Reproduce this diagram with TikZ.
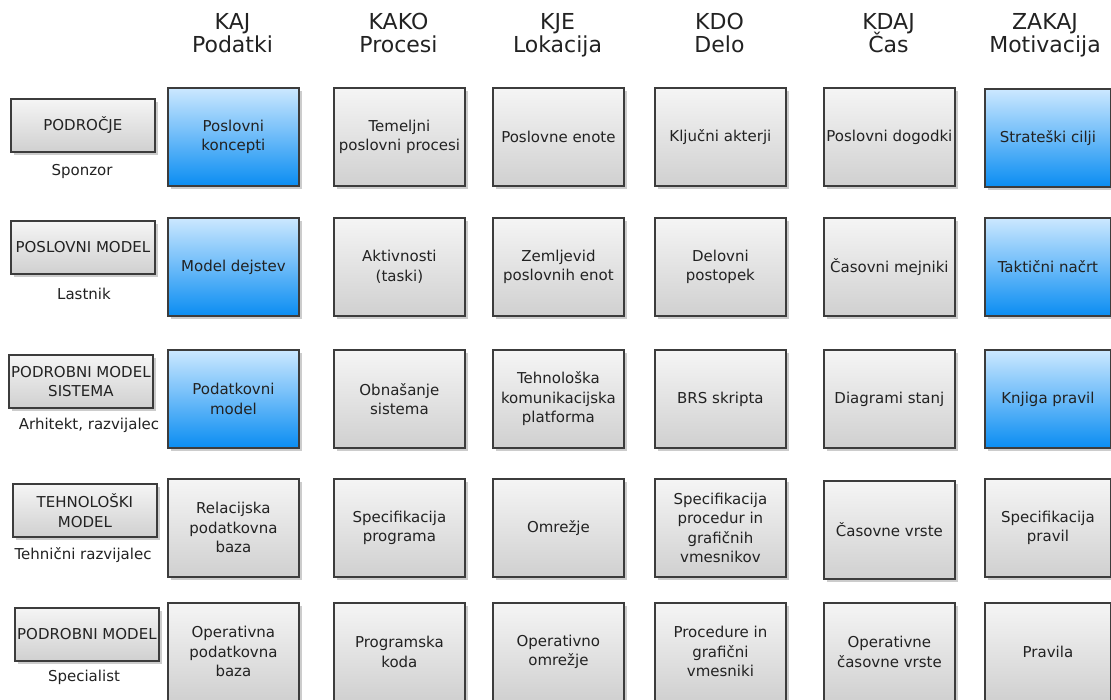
\documentclass[tikz,border=0pt]{standalone}
\usepackage{fontspec}
\setmainfont{DejaVu Sans}
\usetikzlibrary{shadows}

\definecolor{edge}{HTML}{3C3C3C}
\definecolor{greytop}{HTML}{F5F5F5}
\definecolor{greybot}{HTML}{D0D0D0}
\definecolor{bluetop}{HTML}{CCE8FF}
\definecolor{bluebot}{HTML}{0A8DF2}
\definecolor{ink}{HTML}{222222}

\tikzset{
  base/.style={rectangle, draw=edge, line width=1.8pt, anchor=north west,
    inner sep=2pt, align=center, text=ink,
    font=\fontsize{15}{19.5}\selectfont,
    drop shadow={shadow xshift=3.5pt, shadow yshift=-3.5pt, fill=black, opacity=0.2}},
  cell/.style={base, top color=greytop, bottom color=greybot,
    minimum width=131pt, minimum height=98pt},
  keycell/.style={cell, top color=bluetop, bottom color=bluebot},
  levelbox/.style={base, top color=greytop, bottom color=greybot,
    minimum width=144pt, minimum height=53pt, inner sep=1pt},
  role/.style={text=ink, font=\fontsize{15}{18}\selectfont},
  head/.style={text=ink, align=center, anchor=north, inner sep=0pt,
    font=\fontsize{22}{23}\selectfont},
}

\begin{document}
\begin{tikzpicture}[x=1pt, y=-1pt]
\useasboundingbox (0,0) rectangle (1111,700);

% column headings
\node[head] (hkaj)   at (232.5,13) {KAJ\\Podatki};
\node[head] (hkako)  at (398.5,13) {KAKO\\Procesi};
\node[head] (hkje)   at (557.5,13) {KJE\\Lokacija};
\node[head] (hkdo)   at (719.5,13) {KDO\\Delo};
\node[head] (hkdaj)  at (888.5,13) {KDAJ\\\smash{Č}as};
\node[head] (hzakaj) at (1045,13)  {ZAKAJ\\Motivacija};

% level boxes with their roles
\node[levelbox] (l1) at (10,98)  {PODROČJE};
\node[role] (p1) at (82,171) {Sponzor};
\node[levelbox] (l2) at (10,220) {POSLOVNI MODEL};
\node[role] (p2) at (84,294) {Lastnik};
\node[levelbox] (l3) at (8,354)  {PODROBNI MODEL\\SISTEMA};
\node[role] (p3) at (89,425) {Arhitekt, razvijalec};
\node[levelbox] (l4) at (12,483) {TEHNOLOŠKI\\MODEL};
\node[role] (p4) at (83,555) {Tehnični razvijalec};
\node[levelbox] (l5) at (14,607) {PODROBNI MODEL};
\node[role] (p5) at (84,677) {Specialist};

% row 1
\node[keycell] (c11) at (167,87) {Poslovni\\koncepti};
\node[cell]    (c12) at (333,87) {Temeljni\\poslovni procesi};
\node[cell]    (c13) at (492,87) {Poslovne enote};
\node[cell]    (c14) at (654,87) {Ključni akterji};
\node[cell]    (c15) at (823,87) {Poslovni dogodki};
\node[keycell, minimum width=126pt] (c16) at (984,88) {Strateški cilji};

% row 2
\node[keycell] (c21) at (167,217) {Model dejstev};
\node[cell]    (c22) at (333,217) {Aktivnosti\\(taski)};
\node[cell]    (c23) at (492,217) {Zemljevid\\poslovnih enot};
\node[cell]    (c24) at (654,217) {Delovni\\postopek};
\node[cell]    (c25) at (823,217) {Časovni mejniki};
\node[keycell, minimum width=126pt] (c26) at (984,217) {Taktični načrt};

% row 3
\node[keycell] (c31) at (167,349) {Podatkovni\\model};
\node[cell]    (c32) at (333,349) {Obnašanje\\sistema};
\node[cell]    (c33) at (492,349) {Tehnološka\\komunikacijska\\platforma};
\node[cell]    (c34) at (654,349) {BRS skripta};
\node[cell]    (c35) at (823,349) {Diagrami stanj};
\node[keycell, minimum width=126pt] (c36) at (984,349) {Knjiga pravil};

% row 4
\node[cell] (c41) at (167,478) {Relacijska\\podatkovna\\baza};
\node[cell] (c42) at (333,478) {Specifikacija\\programa};
\node[cell] (c43) at (492,478) {Omrežje};
\node[cell] (c44) at (654,478) {Specifikacija\\procedur in\\grafičnih\\vmesnikov};
\node[cell] (c45) at (823,480) {Časovne vrste};
\node[cell, minimum width=126pt] (c46) at (984,478) {Specifikacija\\pravil};

% row 5
\node[cell] (c51) at (167,602) {Operativna\\podatkovna\\baza};
\node[cell] (c52) at (333,602) {Programska\\koda};
\node[cell] (c53) at (492,602) {Operativno\\omrežje};
\node[cell] (c54) at (654,602) {Procedure in\\grafični\\vmesniki};
\node[cell] (c55) at (823,602) {Operativne\\časovne vrste};
\node[cell, minimum width=126pt] (c56) at (984,602) {Pravila};
\end{tikzpicture}
\end{document}
